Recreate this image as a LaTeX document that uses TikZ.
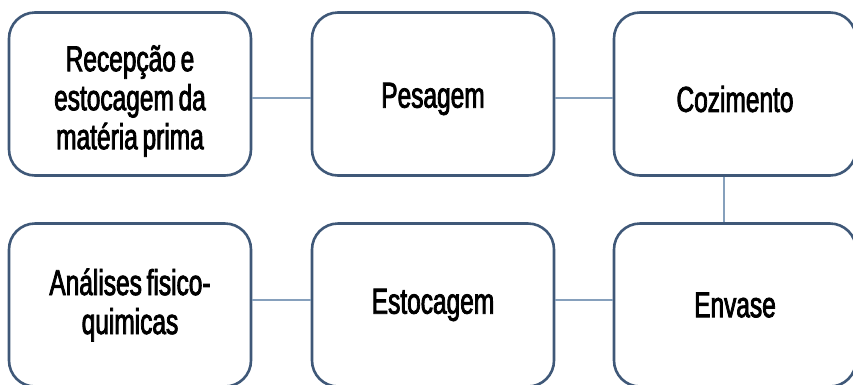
\documentclass[tikz,border=0pt]{standalone}
\usepackage{fontspec}
\setmainfont{Liberation Sans}[FakeStretch=0.68,FakeBold=2.2,WordSpace=0.7]
\definecolor{boxline}{HTML}{3F5878}
\definecolor{conn}{HTML}{86A0BC}
\begin{document}
\begin{tikzpicture}[x=1pt,y=-1pt,
  procbox/.style={draw=boxline,line width=2.6pt,rounded corners=26pt,fill=white,
    minimum width=242pt,minimum height=163pt,inner sep=0pt},
  proctext/.style={align=center,inner sep=0pt,
    font=\fontsize{36}{39}\selectfont},
  link/.style={draw=conn,line width=1.2pt}]
\useasboundingbox (0,0) rectangle (853,384);
\node[procbox] (b1) at (130,94) {};
\node[procbox] (b2) at (433,94) {};
\node[procbox] (b3) at (735,94) {};
\node[procbox] (b4) at (130,305) {};
\node[procbox] (b5) at (433,305) {};
\node[procbox] (b6) at (735,305) {};
\node[proctext] (t1) at ([yshift=-7]b1.center) {Recepção e\\estocagem da\\matéria prima};
\node[proctext] (t2) at ([yshift=-5]b2.center) {Pesagem};
\node[proctext] (t3) at ([yshift=-5]b3.center) {Cozimento};
\node[proctext] (t4) at (b4.center) {Análises fisico-\\quimicas};
\node[proctext] (t5) at (b5.center) {Estocagem};
\node[proctext] (t6) at (b6.center) {Envase};
\draw[link] ([yshift=-4]b1.east) -- ([yshift=-4]b2.west);
\draw[link] ([yshift=-4]b2.east) -- ([yshift=-4]b3.west);
\draw[link] ([xshift=-11]b3.south) -- ([xshift=-11]b6.north);
\draw[link] ([yshift=5]b4.east) -- ([yshift=5]b5.west);
\draw[link] ([yshift=5]b5.east) -- ([yshift=5]b6.west);
\end{tikzpicture}
\end{document}
